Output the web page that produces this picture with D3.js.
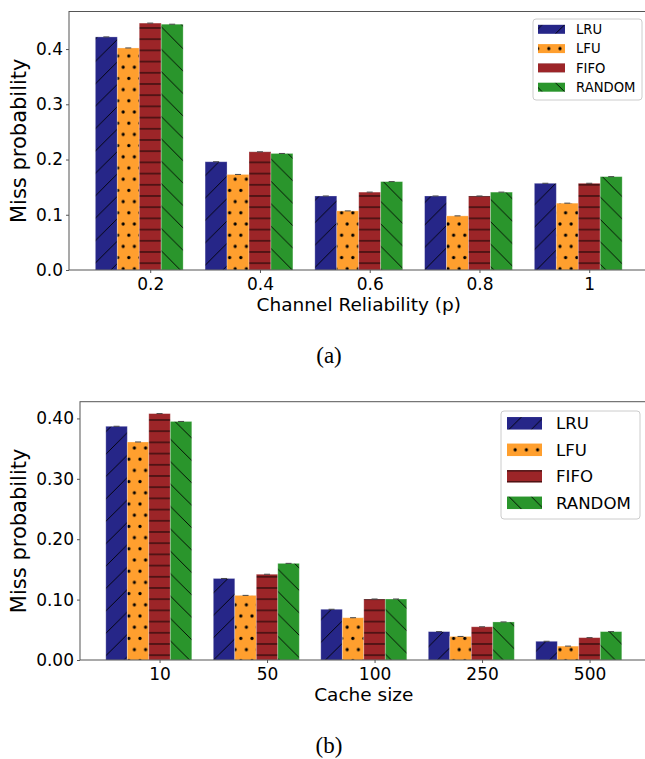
<!DOCTYPE html>
<html>
<head>
<meta charset="utf-8">
<script src="https://cdn.jsdelivr.net/npm/d3@7"></script>
<style>
body{margin:0;background:#fff;}
svg{display:block;}
text{font-family:"DejaVu Sans",sans-serif;fill:#000;}
.cap{font-family:"Liberation Serif",serif;}
</style>
</head>
<body>
<svg id="fig" width="645" height="759"></svg>
<script>
// series names + colours
var policies=['LRU','LFU','FIFO','RANDOM'];
var colors=['#262688','#ff9f2e','#9c2528','#2a952c'];

// panel (a): miss probability vs channel reliability
var relLabels=['0.2','0.4','0.6','0.8','1'];
var relLRU=[0.422,0.196,0.134,0.134,0.157];
var relLFU=[0.402,0.173,0.107,0.098,0.121];
var relFIFO=[0.447,0.214,0.141,0.134,0.157];
var relRANDOM=[0.445,0.211,0.160,0.141,0.169];
var relTicks=[0,0.1,0.2,0.3,0.4];

// panel (b): miss probability vs cache size
var cacheLabels=['10','50','100','250','500'];
var cacheLRU=[0.387,0.135,0.084,0.047,0.031];
var cacheLFU=[0.361,0.107,0.070,0.039,0.023];
var cacheFIFO=[0.408,0.142,0.101,0.055,0.037];
var cacheRANDOM=[0.395,0.160,0.101,0.063,0.047];
var cacheTicks=[0,0.1,0.2,0.3,0.4];

var svg=d3.select('#fig');
var defs=svg.append('defs');
var T=11.2; // hatch spacing (dots, horizontal lines)
var D=2*T;  // diagonal hatch tile

function pat(id,col,w,h){
	var p=defs.append('pattern').attr('id',id).attr('patternUnits','userSpaceOnUse')
		.attr('width',w).attr('height',h);
	p.append('rect').attr('width',w).attr('height',h).attr('fill',col);
	return p;
}
function hline(p,l){
	p.append('line').attr('x1',l[0]).attr('y1',l[1]).attr('x2',l[2]).attr('y2',l[3])
		.attr('stroke','#000').attr('stroke-width',0.9);
}
// LRU "/"
var p0=pat('h0',colors[0],D,D);
[[0,D,D,0],[-1,1,1,-1],[D-1,D+1,D+1,D-1]].forEach(function(l){hline(p0,l);});
// LFU "." staggered dots
var p1=pat('h1',colors[1],T,2*T);
[[0,0],[T,0],[T/2,T],[0,2*T],[T,2*T]].forEach(function(c){
	p1.append('circle').attr('cx',c[0]).attr('cy',c[1]).attr('r',1.6).attr('fill','#000');
});
// FIFO "-"
var p2=pat('h2',colors[2],T,T);
hline(p2,[0,T/2,T,T/2]);
// RANDOM "\"
var p3=pat('h3',colors[3],D,D);
[[0,0,D,D],[-1,D-1,1,D+1],[D-1,-1,D+1,1]].forEach(function(l){hline(p3,l);});

function panel(cfg){
	var g=svg.append('g');
	var x=d3.scaleLinear().domain([-0.64,4.64]).range([cfg.left,cfg.right]);
	var y=d3.scaleLinear().domain([0,cfg.ymax]).range([cfg.bottom,cfg.top]);
	var bw=0.2;

	cfg.series.forEach(function(vals,j){
		var bars=g.append('g');
		bars.selectAll('rect').data(vals).enter().append('rect')
			.attr('x',function(d,i){return x(i-0.4+j*bw);})
			.attr('width',function(d,i){return x(i-0.4+(j+1)*bw)-x(i-0.4+j*bw);})
			.attr('y',function(d){return y(d);})
			.attr('height',function(d){return y(0)-y(d);})
			.attr('fill','url(#h'+j+')')
			.attr('stroke','#fff').attr('stroke-opacity',0.35).attr('stroke-width',0.8);
		// error caps
		bars.selectAll('line').data(vals).enter().append('line')
			.attr('x1',function(d,i){return x(i-0.4+(j+0.5)*bw)-3;})
			.attr('x2',function(d,i){return x(i-0.4+(j+0.5)*bw)+3;})
			.attr('y1',function(d){return y(d);}).attr('y2',function(d){return y(d);})
			.attr('stroke','#444').attr('stroke-width',1);
	});

	// axes
	var ya=g.append('g').attr('transform','translate('+cfg.left+',0)')
		.call(d3.axisLeft(y).tickValues(cfg.ticks).tickFormat(d3.format(cfg.fmt)).tickSize(3).tickPadding(3));
	var xa=g.append('g').attr('transform','translate(0,'+cfg.bottom+')')
		.call(d3.axisBottom(x).tickValues(d3.range(cfg.labels.length).map(function(i){return i+0.1;}))
			.tickFormat(function(d,i){return cfg.labels[i];}).tickSize(3).tickPadding(5));
	[ya,xa].forEach(function(a){
		a.select('.domain').remove();
		a.selectAll('line').attr('stroke','#555');
		a.selectAll('text').attr('font-size',17).attr('font-family','DejaVu Sans').attr('fill','#000');
	});
	// frame
	g.append('rect').attr('x',cfg.left).attr('y',cfg.top).attr('width',cfg.right-cfg.left).attr('height',cfg.bottom-cfg.top)
		.attr('fill','none').attr('stroke','#555').attr('stroke-width',1);

	g.append('text').attr('x',(cfg.left+cfg.right)/2).attr('y',cfg.bottom+40.7)
		.attr('text-anchor','middle').attr('font-size',18.5).text(cfg.xlabel);
	g.append('text').attr('transform','translate(26,'+(cfg.top+cfg.bottom)/2+') rotate(-90)')
		.attr('text-anchor','middle').attr('font-size',21).text('Miss probability');
	g.append('text').attr('class','cap').attr('x',329).attr('y',cfg.capY)
		.attr('text-anchor','middle').attr('font-size',23).text(cfg.cap);

	// legend
	var L=cfg.leg;
	var lg=g.append('g');
	lg.append('rect').attr('x',L.x).attr('y',L.y).attr('width',L.w).attr('height',L.h)
		.attr('rx',3).attr('fill','#fff').attr('fill-opacity',0.8).attr('stroke','#ccc').attr('stroke-width',1);
	var row=lg.selectAll('g.row').data(policies).enter().append('g').attr('class','row')
		.attr('transform',function(d,i){return 'translate(0,'+(L.y0+i*L.dy)+')';});
	row.append('rect').attr('x',L.px).attr('y',-L.ph/2).attr('width',L.pw).attr('height',L.ph)
		.attr('fill',function(d,i){return 'url(#h'+i+')';});
	row.append('text').attr('x',L.tx).attr('dy','0.36em').attr('font-size',L.fs).text(function(d){return d;});
}

panel({left:69,right:648.5,top:11.5,bottom:270,ymax:0.468,
	series:[relLRU,relLFU,relFIFO,relRANDOM],labels:relLabels,ticks:relTicks,fmt:'.1f',
	xlabel:'Channel Reliability (p)',cap:'(a)',capY:362.5,
	leg:{x:533,y:19,w:109,h:81,y0:29.3,dy:19.3,px:538,pw:27,ph:9,tx:576,fs:13.2}});

panel({left:80,right:647.6,top:401.7,bottom:660,ymax:0.4277,
	series:[cacheLRU,cacheLFU,cacheFIFO,cacheRANDOM],labels:cacheLabels,ticks:cacheTicks,fmt:'.2f',
	xlabel:'Cache size',cap:'(b)',capY:753,
	leg:{x:501,y:411,w:139,h:108,y0:423.3,dy:26.5,px:507,pw:35,ph:12.5,tx:556,fs:16.6}});
</script>
</body>
</html>
